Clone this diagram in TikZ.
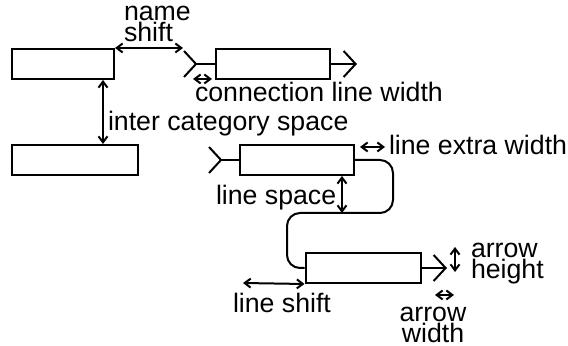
\documentclass[tikz,border=0pt]{standalone}
\usepackage{fontspec}
\setmainfont{Liberation Sans}
\usetikzlibrary{arrows.meta,positioning}

\begin{document}
\begin{tikzpicture}[x=0.5pt,y=-0.5pt,line width=1pt,
				>={Straight Barb[length=6pt,width=13pt]},
				box/.style={draw,rectangle,inner sep=0pt,minimum height=15pt},
				tail/.style={{Straight Barb[reversed,length=6pt,width=13pt]}-},
				dim/.style={{Straight Barb[length=3pt,width=4.5pt]}-{Straight Barb[length=3pt,width=4.5pt]}},
				lbl/.style={inner sep=0pt,anchor=base west,align=left,
					font=\fontsize{13.35}{10.5}\selectfont}]
			\useasboundingbox (0,0) rectangle (568,346);
			% categories
			\node[box,minimum width=51pt] (catA) at (63,64) {};
			\node[box,minimum width=63pt] (catB) at (75,160) {};
			% lines
			\node[box,minimum width=57pt] (lineC) at (273,64) {};
			\node[box,minimum width=57pt] (lineD) at (297,160) {};
			\node[box,minimum width=57.5pt] (lineE) at (363,268) {};
			\coordinate (startC) at (183,64);
			\coordinate (endC) at (357,64);
			\coordinate (startD) at (208,160);
			\coordinate (turnR) at (393,213);
			\coordinate (turnL) at (287,213);
			\coordinate (endE) at (447,268);
			\draw[tail] (startC) -- (lineC.west);
			\draw[->] (lineC.east) -- (endC);
			\draw[tail] (startD) -- (lineD.west);
			\draw[rounded corners=6.5pt] (lineD.east) -| (turnR) -- (turnL) |- (lineE.west);
			\draw[->] (lineE.east) -- (endE);
			% dimensions (multi-line labels sit on their last line)
			\draw[dim] (catA.north east) -- (catA.north east -| startC);
			\node[lbl] (shiftLbl) at (123,42) {name\\shift};
			\draw[dim] ([xshift=-6pt]catA.south east) -- ([xshift=-6pt]catA.south east |- catB.north);
			\node[lbl] (interLbl) at (107,131) {inter category space};
			\coordinate (cwL) at (193,79);
			\coordinate (cwR) at (212,79);
			\draw[dim] (cwL) -- (cwR);
			\node[lbl] (connLbl) at (194,102) {connection line width};
			\coordinate (ewL) at (360,147);
			\coordinate (ewR) at (385,147);
			\draw[dim] (ewL) -- (ewR);
			\node[lbl] (extraLbl) at (388,155) {line extra width};
			\draw[dim] ([xshift=-6.5pt]lineD.south east) -- ([xshift=-6.5pt]lineD.south east |- turnL);
			\node[lbl] (spaceLbl) at (215,205) {line space};
			\coordinate (lsL) at (243,283);
			\draw[dim] (lsL) -- (lineE.south west);
			\node[lbl] (lshiftLbl) at (232,313) {line shift};
			\coordinate (ahT) at (455,247);
			\coordinate (ahB) at (455,272);
			\draw[dim] (ahT) -- (ahB);
			\node[lbl] (heightLbl) at (470,279) {arrow\\height};
			\coordinate (awL) at (435,295);
			\coordinate (awR) at (454,295);
			\draw[dim] (awL) -- (awR);
			\node[lbl,anchor=base,align=center] (widthLbl) at (433,343) {arrow\\width};
		\end{tikzpicture}
\end{document}
